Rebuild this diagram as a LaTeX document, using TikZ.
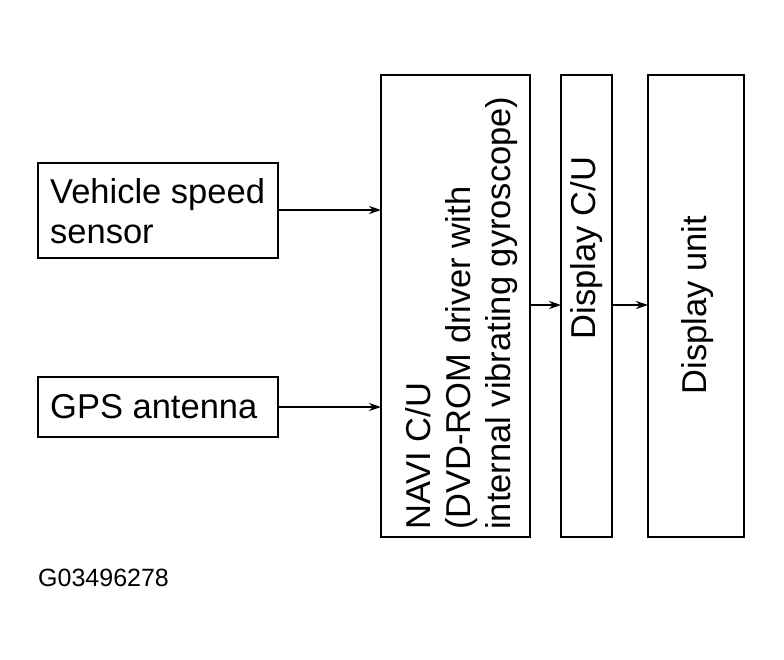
\documentclass[tikz,border=0pt]{standalone}
\usepackage{fontspec}
\setmainfont{Liberation Sans}
\usetikzlibrary{arrows.meta}
\begin{document}
\begin{tikzpicture}[x=1pt,y=-1pt,
  box/.style={draw,line width=1.8pt},
  lbl/.style={font=\fontsize{34.5}{40}\selectfont,align=left,inner sep=0pt},
  arr/.style={line width=1.2pt,-{Stealth[length=12pt,width=8pt]}}]
\useasboundingbox (0,0) rectangle (784,659);
\draw[box] (38,163) rectangle (278,258);
\draw[box] (38,377) rectangle (278,437);
\draw[box] (381,75) rectangle (530,537);
\draw[box] (561,75) rectangle (612,537);
\draw[box] (648,75) rectangle (744,537);
\node[lbl,anchor=west] (vss) at (50,211) {Vehicle speed\\sensor};
\node[lbl,anchor=west] (gps) at (50,407) {GPS antenna};
\node[lbl,rotate=90,anchor=west] (navi) at (462,530) {NAVI C/U\\(DVD-ROM driver with\\internal vibrating gyroscope)};
\node[lbl,rotate=90] (dcu) at (587,248) {Display C/U};
\node[lbl,rotate=90] (du) at (698,305) {Display unit};
\node[font=\fontsize{25}{30}\selectfont,anchor=west,inner sep=0pt] (code) at (38,578) {G03496278};
\coordinate (a1) at (278,210); \coordinate (b1) at (381,210);
\coordinate (a2) at (278,407); \coordinate (b2) at (381,407);
\coordinate (a3) at (530,305); \coordinate (b3) at (561,305);
\coordinate (a4) at (612,305); \coordinate (b4) at (648,305);
\draw[arr] (a1) -- (b1);
\draw[arr] (a2) -- (b2);
\draw[arr] (a3) -- (b3);
\draw[arr] (a4) -- (b4);
\end{tikzpicture}
\end{document}
